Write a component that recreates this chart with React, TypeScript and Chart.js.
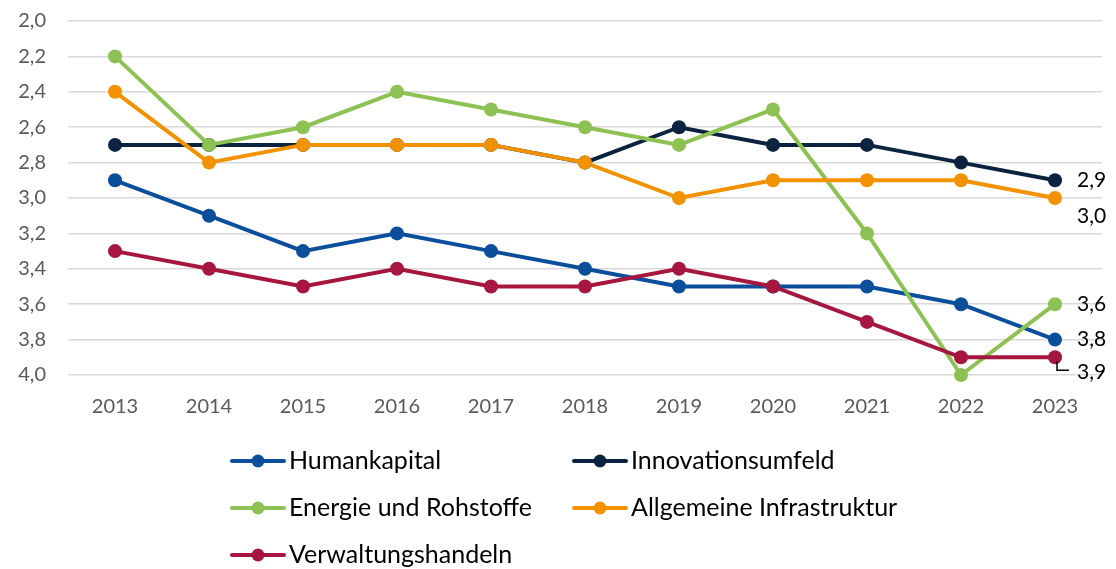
import React, { useEffect, useRef } from "react";
import { Chart, registerables } from "chart.js";

Chart.register(...registerables);

const years = ["2013", "2014", "2015", "2016", "2017", "2018", "2019", "2020", "2021", "2022", "2023"];
const seriesNames = ["Humankapital", "Innovationsumfeld", "Energie und Rohstoffe", "Allgemeine Infrastruktur", "Verwaltungshandeln"];
const humankapital = [2.9, 3.1, 3.3, 3.2, 3.3, 3.4, 3.5, 3.5, 3.5, 3.6, 3.8];
const innovationsumfeld = [2.7, 2.7, 2.7, 2.7, 2.7, 2.8, 2.6, 2.7, 2.7, 2.8, 2.9];
const energie = [2.2, 2.7, 2.6, 2.4, 2.5, 2.6, 2.7, 2.5, 3.2, 4.0, 3.6];
const infrastruktur = [2.4, 2.8, 2.7, 2.7, 2.7, 2.8, 3.0, 2.9, 2.9, 2.9, 3.0];
const verwaltung = [3.3, 3.4, 3.5, 3.4, 3.5, 3.5, 3.4, 3.5, 3.7, 3.9, 3.9];
const colors = ["#0B4F9C", "#0C2340", "#8DC153", "#F39200", "#A5173E"];
// vertical offset of the end label relative to its point (style only)
const labelDy = [0, 0, 0, 18, 15];

const FONT = "Lato, 'Open Sans', sans-serif";

const fmt = (v: number) => v.toFixed(1).replace(".", ",");

const endLabels = {
  id: "endLabels",
  afterDatasetsDraw(chart: any) {
    const ctx = chart.ctx;
    ctx.save();
    ctx.font = `21px ${FONT}`;
    ctx.fillStyle = "#000";
    ctx.textBaseline = "middle";
    ctx.textAlign = "left";
    chart.data.datasets.forEach((ds: any, i: number) => {
      const meta = chart.getDatasetMeta(i);
      const pt = meta.data[meta.data.length - 1];
      const v = ds.data[ds.data.length - 1];
      const x = pt.x + 22;
      const y = pt.y + labelDy[i];
      ctx.fillText(fmt(v), x, y);
      if (i === 4) {
        ctx.strokeStyle = "#000";
        ctx.lineWidth = 1.5;
        ctx.beginPath();
        ctx.moveTo(pt.x + 2, pt.y + 4);
        ctx.lineTo(pt.x + 2, y - 2);
        ctx.lineTo(pt.x + 14, y - 2);
        ctx.stroke();
      }
    });
    ctx.restore();
  },
};

const customLegend = {
  id: "customLegend",
  afterDraw(chart: any) {
    const ctx = chart.ctx;
    ctx.save();
    ctx.font = `25px ${FONT}`;
    ctx.textBaseline = "middle";
    ctx.textAlign = "left";
    const cols = [230, 572];
    const rows = [461, 508, 555];
    chart.data.datasets.forEach((ds: any, i: number) => {
      const x = cols[i % 2];
      const y = rows[Math.floor(i / 2)];
      ctx.strokeStyle = ds.borderColor;
      ctx.lineWidth = 4;
      ctx.lineCap = "round";
      ctx.beginPath();
      ctx.moveTo(x + 2, y);
      ctx.lineTo(x + 54, y);
      ctx.stroke();
      ctx.fillStyle = ds.borderColor;
      ctx.beginPath();
      ctx.arc(x + 28, y, 6.5, 0, Math.PI * 2);
      ctx.fill();
      ctx.fillStyle = "#000";
      ctx.fillText(ds.label, x + 59, y);
    });
    ctx.restore();
  },
};

export default function App() {
  const ref = useRef<HTMLCanvasElement>(null);
  useEffect(() => {
    const all = [humankapital, innovationsumfeld, energie, infrastruktur, verwaltung];
    const chart = new Chart(ref.current!, {
      type: "line",
      data: {
        labels: years,
        datasets: all.map((d, i) => ({
          label: seriesNames[i],
          data: d,
          borderColor: colors[i],
          backgroundColor: colors[i],
          borderWidth: 4,
          pointRadius: 7,
          pointBackgroundColor: colors[i],
          pointBorderWidth: 0,
          tension: 0,
          clip: false,
          order: 5 - i,
        })),
      },
      options: {
        animation: false,
        responsive: false,
        maintainAspectRatio: false,
        layout: { padding: { top: 21, right: 14, bottom: 150, left: 0 } },
        plugins: { legend: { display: false }, tooltip: { enabled: false } },
        scales: {
          x: {
            offset: true,
            grid: { display: false },
            border: { display: false },
            ticks: { color: "#595959", font: { family: FONT, size: 20 }, padding: 12 },
            afterFit: (s: any) => { s.height = 44; s.paddingLeft = 0; s.paddingRight = 0; },
          },
          y: {
            reverse: true,
            min: 2,
            max: 4,
            border: { display: false },
            grid: { color: "#D9D9D9", lineWidth: 1.5, drawTicks: false },
            ticks: {
              stepSize: 0.2,
              color: "#595959",
              font: { family: FONT, size: 20 },
              padding: 22,
              callback: (v: any) => fmt(Number(v)),
            },
            afterFit: (s: any) => { s.width = 68; s.paddingTop = 0; s.paddingBottom = 0; },
          },
        },
      },
      plugins: [endLabels, customLegend],
    });
    return () => chart.destroy();
  }, []);
  return (
    <div style={{ position: "fixed", left: 0, top: 0, width: 1116, height: 569, background: "#fff" }}>
      <canvas ref={ref} width={1116} height={569} style={{ display: "block" }} />
    </div>
  );
}
